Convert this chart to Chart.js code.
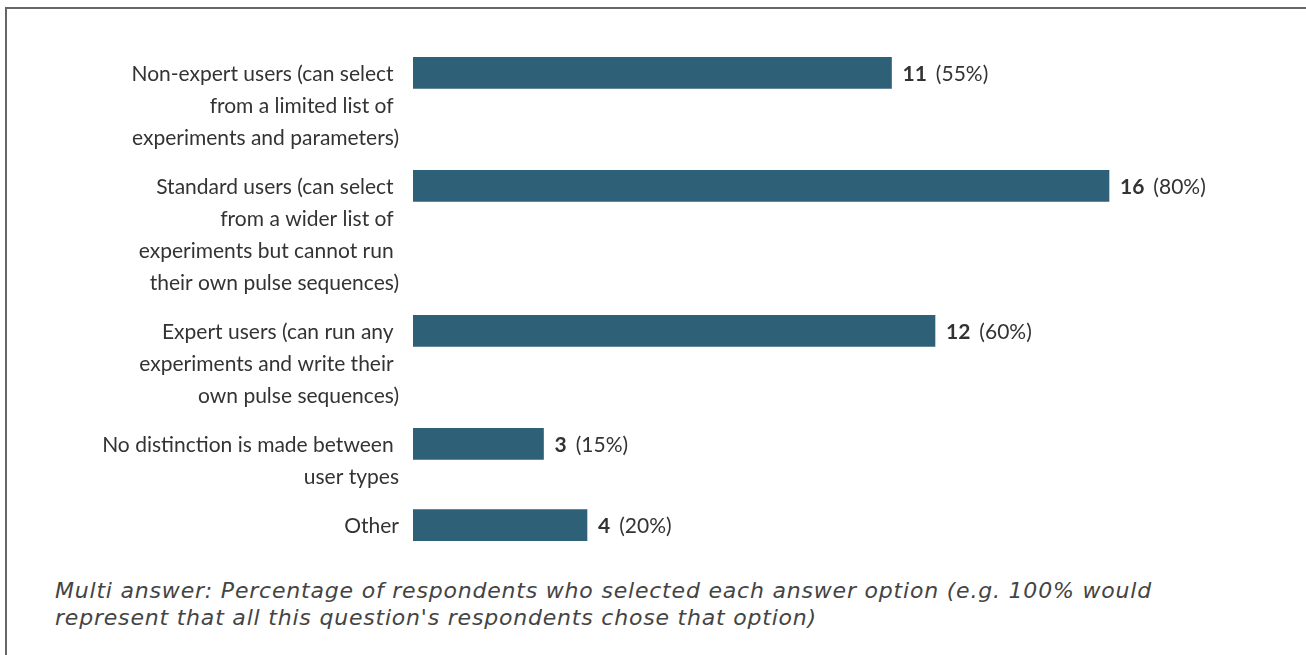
<!DOCTYPE html>
<html>
<head>
<meta charset="utf-8">
<script src="https://cdn.jsdelivr.net/npm/chart.js@4"></script>
<style>
  html, body { margin: 0; padding: 0; background: #fff; }
  body { width: 1306px; height: 655px; position: relative; overflow: hidden; }
  #frame { position: absolute; left: 5px; top: 7px; width: 1400px; height: 700px;
           border-top: 2px solid #666; border-left: 2px solid #666; }
  #wrap { position: absolute; left: 0; top: 0; width: 1306px; height: 560px; }
  #caption { position: absolute; left: 55px; top: 578px; width: 1240px;
             font-family: "DejaVu Sans", sans-serif; font-style: italic;
             font-size: 22px; line-height: 26.5px; color: #444; letter-spacing: 0.8px; }
</style>
</head>
<body>
<div id="frame"></div>
<div id="wrap"><canvas id="grafico"></canvas></div>
<div id="caption">Multi answer: Percentage of respondents who selected each answer option (e.g. 100% would<br>represent that all this question's respondents chose that option)</div>
<script>
// dados
const categorias = [
    ['Non-expert users (can select', 'from a limited list of', 'experiments and parameters)'],
    ['Standard users (can select', 'from a wider list of', 'experiments but cannot run', 'their own pulse sequences)'],
    ['Expert users (can run any', 'experiments and write their', 'own pulse sequences)'],
    ['No distinction is made between', 'user types'],
    ['Other']
];
const respostas = [11, 16, 12, 3, 4];
const percentuais = [55, 80, 60, 15, 20];
const totalRespondentes = 20;

// cada categoria ocupa tantas "linhas" quanto o seu rótulo, mais um espaço
const ALTURA_LINHA = 32;
const ESPACO = 0.55;
const posicoes = [];
let acumulado = 0;
categorias.forEach((linhas) => {
    posicoes.push(acumulado);
    acumulado += linhas.length + ESPACO;
});
const ultimaPos = posicoes[posicoes.length - 1];

const corTexto = '#333333';
const fonteRotulo = '21px Lato, "Open Sans", sans-serif';

const pluginRotulos = {
    id: 'rotulos',
    afterDatasetsDraw(chart) {
        const ctx = chart.ctx;
        const meta = chart.getDatasetMeta(0);
        ctx.save();
        ctx.fillStyle = corTexto;
        ctx.textBaseline = 'middle';
        meta.data.forEach((barra, i) => {
            // rótulos da categoria, alinhados à direita
            ctx.font = fonteRotulo;
            ctx.textAlign = 'right';
            const linhas = categorias[i];
            linhas.forEach((txt, k) => {
                const t = k < linhas.length - 1 ? txt + ' ' : txt;
                ctx.fillText(t, chart.chartArea.left - 14, barra.y + 1 + k * ALTURA_LINHA);
            });
            // valor + percentual
            ctx.textAlign = 'left';
            let x = barra.x + 11;
            ctx.font = 'bold 21px Lato, "Open Sans", sans-serif';
            const num = String(respostas[i]);
            ctx.fillText(num, x, barra.y + 1);
            x += ctx.measureText(num).width + 9;
            ctx.font = fonteRotulo;
            ctx.fillText('(' + percentuais[i] + '%)', x, barra.y + 1);
        });
        ctx.restore();
    }
};

new Chart(document.getElementById('grafico').getContext('2d'), {
    type: 'bar',
    data: {
        datasets: [{
            data: respostas.map((v, i) => ({ x: v, y: posicoes[i] })),
            backgroundColor: '#2e6178',
            borderWidth: 0,
            barThickness: 31
        }]
    },
    options: {
        indexAxis: 'y',
        responsive: true,
        maintainAspectRatio: false,
        animation: false,
        layout: { padding: { left: 413, right: 23, top: 41, bottom: 3 } },
        plugins: { legend: { display: false }, tooltip: { enabled: false } },
        scales: {
            x: { type: 'linear', min: 0, max: totalRespondentes, display: false },
            y: { type: 'linear', reverse: true, offset: false, min: -1, max: ultimaPos + 1, display: false }
        }
    },
    plugins: [pluginRotulos]
});
</script>
</body>
</html>
